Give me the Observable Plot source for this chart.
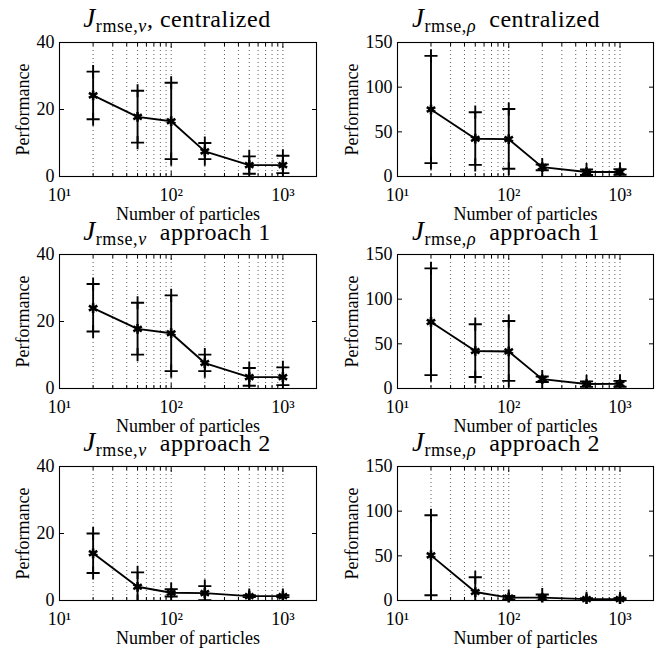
<!DOCTYPE html>
<html>
<head>
<meta charset="utf-8">
<script src="https://cdn.jsdelivr.net/npm/d3@7"></script>
<script src="https://cdn.jsdelivr.net/npm/@observablehq/plot@0.6"></script>
<style>
  html, body { margin: 0; padding: 0; background: white; }
  #root { position: relative; width: 658px; height: 648px; overflow: hidden; background: white; font-family: "Liberation Serif", "DejaVu Serif", serif; }
  .panel { position: absolute; }
  .title { position: absolute; white-space: nowrap; font-size: 24px; line-height: 24px; letter-spacing: 0.5px; transform: translateX(-50%); color: black; }
  .title .J { font-style: italic; font-size: 27px; }
  .title .sub { font-size: 18px; position: relative; top: 5px; letter-spacing: 0.6px; }
</style>
</head>
<body>
<div id="root"></div>
<script>
// ---- data ----
const particles = [20, 50, 100, 200, 500, 1000];

const vCentMean = [24.2, 17.8, 16.5, 7.5, 3.4, 3.4];
const vCentLow  = [17.1, 10.1, 5.2, 5.2, 0.8, 1.0];
const vCentHigh = [31.3, 25.6, 28.0, 10.0, 6.0, 6.2];

const rhoCentMean = [75, 42.3, 41.8, 10.5, 5.0, 5.0];
const rhoCentLow  = [15, 13.0, 8.6, 7.0, 1.6, 1.9];
const rhoCentHigh = [135, 72.0, 75.5, 13.5, 7.8, 8.2];

const vApp1Mean = [24.0, 17.8, 16.5, 7.6, 3.4, 3.4];
const vApp1Low  = [17.0, 10.1, 5.2, 5.2, 0.8, 1.0];
const vApp1High = [31.2, 25.6, 27.8, 10.1, 6.1, 6.3];

const rhoApp1Mean = [74.5, 42.0, 41.5, 10.5, 5.0, 5.2];
const rhoApp1Low  = [15, 12.8, 8.5, 7.2, 1.8, 2.0];
const rhoApp1High = [134.5, 72.0, 75.5, 13.5, 8.0, 8.5];

const vApp2Mean = [14.1, 4.1, 2.3, 2.2, 1.3, 1.3];
const vApp2Low  = [8.2, -0.2, 1.2, 0.1, 1.0, 1.0];
const vApp2High = [20.0, 8.4, 3.4, 4.3, 1.6, 1.6];

const rhoApp2Mean = [50.5, 9.5, 3.2, 3.2, 1.5, 1.5];
const rhoApp2Low  = [5.8, -7.0, 1.2, -0.3, 0.6, 0.6];
const rhoApp2High = [95.5, 26.0, 5.0, 6.7, 2.5, 2.5];

const xMajorTicks = [10, 100, 1000];
const xMinorTicks = [20, 30, 40, 50, 60, 70, 80, 90, 200, 300, 400, 500, 600, 700, 800, 900];
const xGridTicks = [20, 30, 40, 50, 60, 70, 80, 90, 100, 200, 300, 400, 500, 600, 700, 800, 900, 1000];
const vTicks = [0, 20, 40];
const rhoTicks = [0, 50, 100, 150];
const vDomain = [0, 40];
const rhoDomain = [0, 150];

const symbolNames = {v: "v", rho: "ρ"};
const titleSuffixV = [", centralized", "  approach 1", "  approach 2"];
const titleSuffixRho = ["  centralized", "  approach 1", "  approach 2"];
const xLabel = "Number of particles";
const yLabel = "Performance";

// ---- layout ----
const rowPlotTop = [42, 254, 466];
const plotH = 134;
const titleBaseline = [27, 240, 451];
const colLeft = [0, 329];
const colMarginLeft = [59, 68];
const colTitleCenter = [177, 506];

const panels = [
  {row: 0, col: 0, sym: "v", mean: vCentMean, low: vCentLow, high: vCentHigh},
  {row: 0, col: 1, sym: "rho", mean: rhoCentMean, low: rhoCentLow, high: rhoCentHigh},
  {row: 1, col: 0, sym: "v", mean: vApp1Mean, low: vApp1Low, high: vApp1High},
  {row: 1, col: 1, sym: "rho", mean: rhoApp1Mean, low: rhoApp1Low, high: rhoApp1High},
  {row: 2, col: 0, sym: "v", mean: vApp2Mean, low: vApp2Low, high: vApp2High},
  {row: 2, col: 1, sym: "rho", mean: rhoApp2Mean, low: rhoApp2Low, high: rhoApp2High}
];

const sup = {1: "¹", 2: "²", 3: "³"};
const fmtX = d => "10" + sup[Math.round(Math.log10(d))];

const root = document.getElementById("root");
const mT = 8, mB = 44;
const FONT = "'Liberation Serif', 'DejaVu Serif', serif";

for (const p of panels) {
  const data = particles.map((x, i) => ({x, mean: p.mean[i], low: p.low[i], high: p.high[i]}));
  const isV = p.sym === "v";
  const yTicks = isV ? vTicks : rhoTicks;
  const mL = colMarginLeft[p.col];
  const width = 329;
  const mR = p.col === 0 ? 13 : 5;
  const chart = Plot.plot({
    width, height: mT + plotH + mB,
    marginLeft: mL, marginRight: mR, marginTop: mT, marginBottom: mB,
    style: {fontFamily: FONT, fontSize: "18px", color: "black", background: "transparent", overflow: "visible"},
    x: {type: "log", domain: [10, 2000]},
    y: {domain: isV ? vDomain : rhoDomain},
    marks: [
      Plot.ruleX(xGridTicks, {stroke: "black", strokeWidth: 0.9, strokeDasharray: "1,3", strokeOpacity: 0.7}),
      Plot.axisX(xMajorTicks, {anchor: "bottom", tickSize: -5, fill: "none", label: null, stroke: "black"}),
      Plot.axisX(xMinorTicks, {anchor: "bottom", tickSize: -3, fill: "none", label: null, stroke: "black"}),
      Plot.axisX(xMajorTicks, {anchor: "top", tickSize: -5, fill: "none", label: null, stroke: "black"}),
      Plot.axisX(xMinorTicks, {anchor: "top", tickSize: -3, fill: "none", label: null, stroke: "black"}),
      Plot.axisY(yTicks, {anchor: "left", tickSize: -5, fill: "none", label: null, stroke: "black"}),
      Plot.axisY(yTicks, {anchor: "right", tickSize: -5, fill: "none", label: null, stroke: "black"}),
      Plot.axisX(xMajorTicks, {anchor: "bottom", tickSize: 0, tickPadding: 12, tickFormat: fmtX, fontSize: 18, label: xLabel, labelArrow: "none", labelAnchor: "center", labelOffset: 43, fill: "black"}),
      Plot.axisY(yTicks, {anchor: "left", tickSize: 0, tickPadding: 5, fontSize: 18, label: yLabel, labelArrow: "none", labelAnchor: "center", labelOffset: mL - 16, fill: "black"}),
      Plot.frame({stroke: "black", strokeWidth: 1.1}),
      Plot.ruleX(data, {x: "x", y1: "low", y2: "high", stroke: "black", strokeWidth: 1.9, clip: true}),
      Plot.line(data, {x: "x", y: "mean", stroke: "black", strokeWidth: 1.9}),
      Plot.dot(data, {x: "x", y: "low", symbol: "plus", r: 4.3, stroke: "black", strokeWidth: 1.9, clip: true}),
      Plot.dot(data, {x: "x", y: "high", symbol: "plus", r: 4.3, stroke: "black", strokeWidth: 1.9, clip: true}),
      Plot.dot(data, {x: "x", y: "mean", symbol: "asterisk", r: 4.6, stroke: "black", strokeWidth: 2.6})
    ]
  });
  const holder = document.createElement("div");
  holder.className = "panel";
  holder.style.left = colLeft[p.col] + "px";
  holder.style.top = (rowPlotTop[p.row] - mT) + "px";
  holder.appendChild(chart);
  root.appendChild(holder);

  const title = document.createElement("div");
  title.className = "title";
  title.style.left = colTitleCenter[p.col] + "px";
  title.style.top = (titleBaseline[p.row] - 21) + "px";
  const J = document.createElement("span"); J.className = "J"; J.textContent = "J";
  const sub = document.createElement("span"); sub.className = "sub";
  sub.appendChild(document.createTextNode("rmse,"));
  const si = document.createElement("i"); si.textContent = symbolNames[p.sym];
  sub.appendChild(si);
  const rest = document.createElement("span");
  rest.style.whiteSpace = "pre";
  rest.textContent = isV ? titleSuffixV[p.row] : titleSuffixRho[p.row];
  title.appendChild(J); title.appendChild(sub); title.appendChild(rest);
  root.appendChild(title);
}
</script>
</body>
</html>
